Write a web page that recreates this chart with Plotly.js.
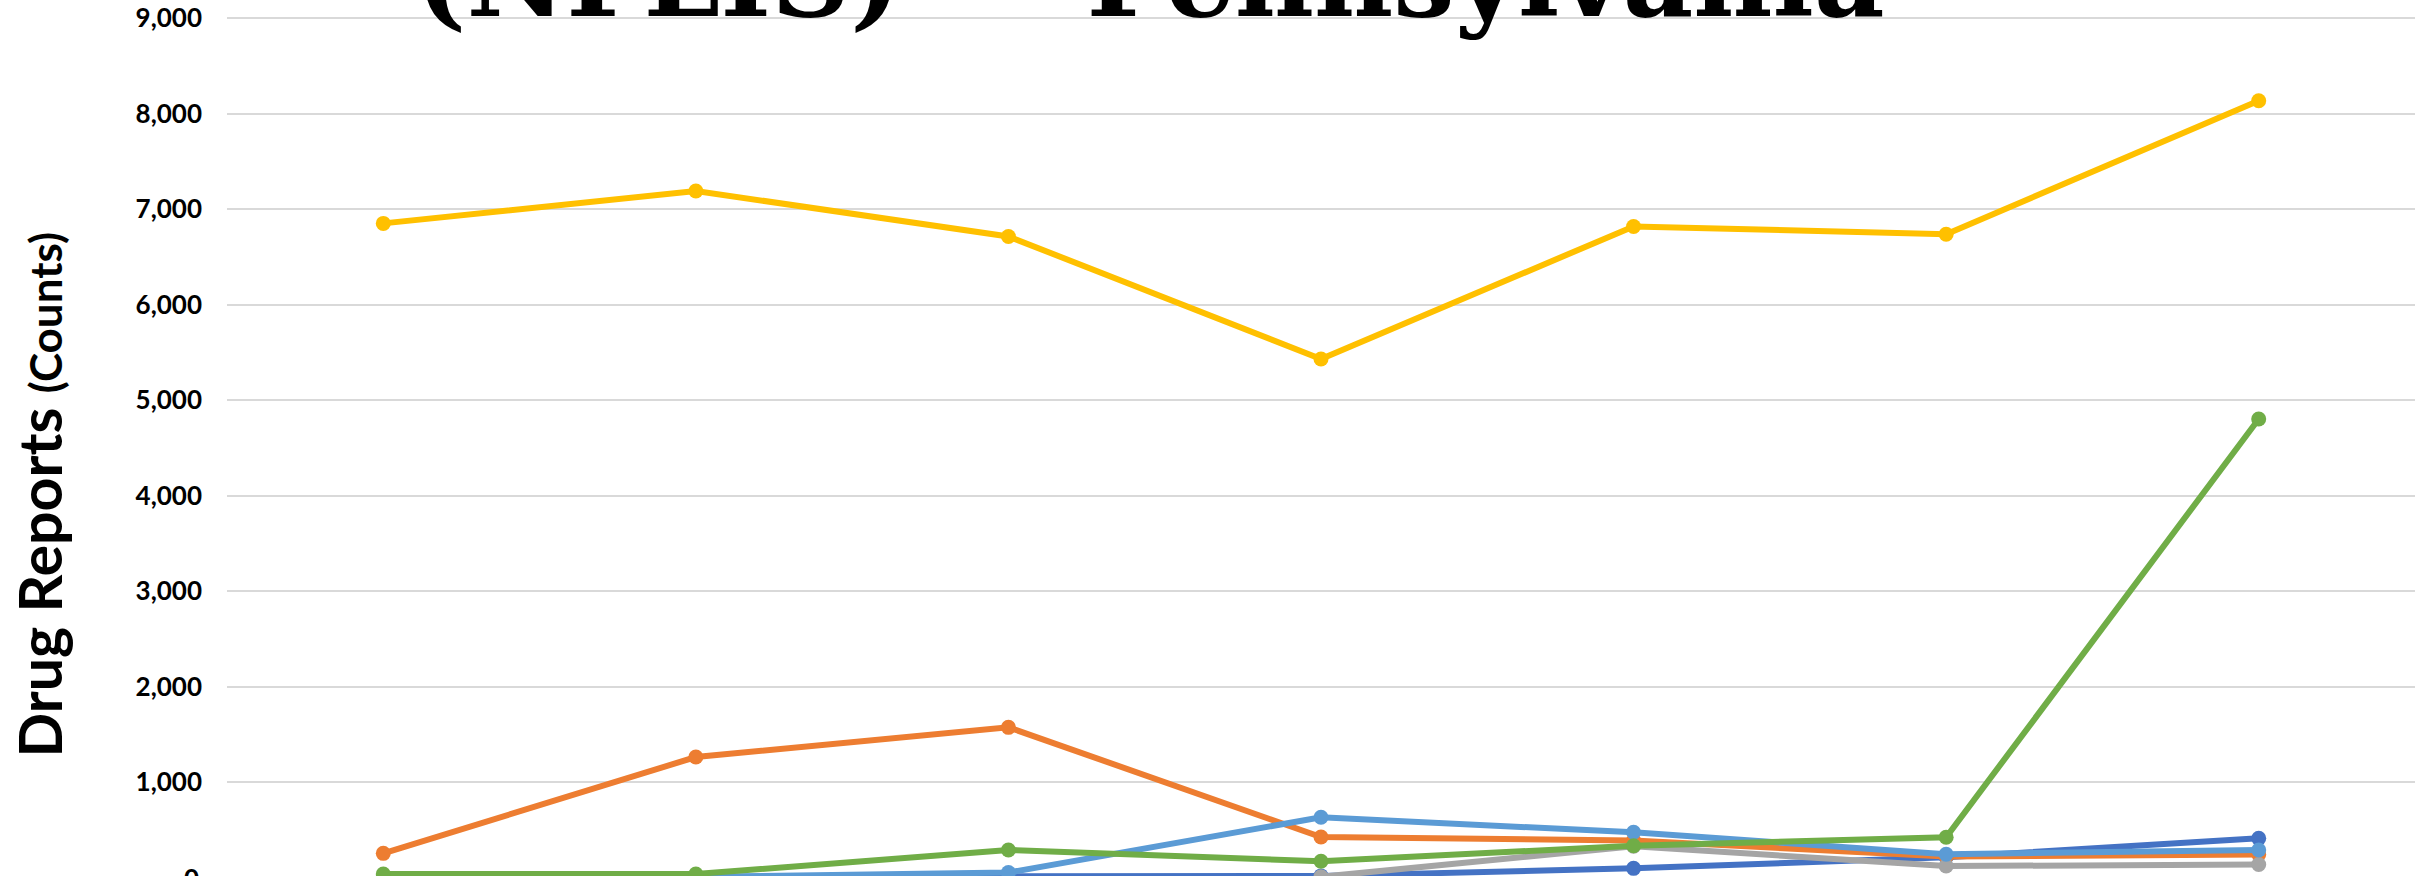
<!DOCTYPE html>
<html>
<head>
<meta charset="utf-8">
<script src="https://cdn.plot.ly/plotly-3.0.1.min.js"></script>
<style>
  html, body { margin: 0; padding: 0; background: #ffffff; }
  #chart { width: 2415px; height: 876px; }
</style>
</head>
<body>
<div id="chart"></div>
<script>
// Categories (x-axis labels are cropped out of the reference)
const periods = ["P1", "P2", "P3", "P4", "P5", "P6", "P7"];

// Series values
const seriesDarkBlue  = [5, 5, 10, 20, 99, 215, 413];
const seriesOrange    = [256, 1264, 1575, 427, 390, 222, 245];
const seriesGray      = [null, null, null, 10, 330, 123, 139];
const seriesYellow    = [6850, 7189, 6713, 5431, 6818, 6737, 8134];
const seriesLightBlue = [0, 10, 55, 633, 476, 246, 291];
const seriesGreen     = [40, 40, 291, 173, 336, 424, 4803];

const seriesNames  = ["Series 1", "Series 2", "Series 3", "Series 4", "Series 5", "Series 6"];
const seriesValues = [seriesDarkBlue, seriesOrange, seriesGray, seriesYellow, seriesLightBlue, seriesGreen];
const seriesColors = ["#4472C4", "#ED7D31", "#A5A5A5", "#FFC000", "#5B9BD5", "#70AD47"];

const yTickVals = [0, 1000, 2000, 3000, 4000, 5000, 6000, 7000, 8000, 9000];

const titleText = "(NFLIS) \u2014 Pennsylvania";
const yTitleMain = "Drug Reports";
const yTitleSub = "(Counts)";

const traces = seriesValues.map((vals, i) => ({
  type: "scatter",
  mode: "lines+markers",
  name: seriesNames[i],
  x: periods,
  y: vals,
  connectgaps: false,
  line: { color: seriesColors[i], width: 6 },
  marker: { color: seriesColors[i], size: 15 },
  hoverinfo: "x+y+name"
}));

const layout = {
  width: 2415,
  height: 876,
  margin: { l: 227, r: 0, t: 0, b: 0, pad: 0 },
  paper_bgcolor: "#ffffff",
  plot_bgcolor: "#ffffff",
  showlegend: false,
  font: { family: "Lato, 'Noto Sans', sans-serif", color: "#000000" },
  xaxis: {
    type: "category",
    range: [-0.5, 6.5],
    showgrid: false,
    zeroline: false,
    showline: false,
    showticklabels: false,
    ticks: ""
  },
  yaxis: {
    range: [18.8, 9188.4],
    tickvals: yTickVals,
    tickformat: ",d",
    showgrid: true,
    gridcolor: "#D9D9D9",
    gridwidth: 2,
    zeroline: false,
    showline: false,
    ticks: "",
    ticklabelstandoff: 24,
    tickfont: { family: "Lato, sans-serif", size: 26, weight: 700, color: "#000000" }
  },
  annotations: [
    {
      text: titleText,
      xref: "paper", yref: "paper",
      x: (1150 - 227) / 2188, y: 1 + 21.7 / 876,
      xanchor: "center", yanchor: "middle",
      showarrow: false,
      font: { family: "'DejaVu Serif', serif", size: 109, weight: 700, color: "#000000" }
    },
    {
      text: yTitleMain + " <span style=\"font-size:44px\">" + yTitleSub + "</span>",
      xref: "paper", yref: "paper",
      x: (39 - 227) / 2188, y: (876 - 495.5) / 876,
      xanchor: "center", yanchor: "middle",
      textangle: -90,
      showarrow: false,
      font: { family: "Lato, sans-serif", size: 59, weight: 700, color: "#000000" }
    },
    {
      text: "0",
      xref: "paper", yref: "paper",
      x: (201 - 227) / 2188, y: -1.8 / 876,
      xanchor: "right", yanchor: "middle",
      showarrow: false,
      font: { family: "Lato, sans-serif", size: 26, weight: 700, color: "#000000" }
    }
  ]
};

Plotly.newPlot("chart", traces, layout, { displayModeBar: false, staticPlot: true });
</script>
</body>
</html>
